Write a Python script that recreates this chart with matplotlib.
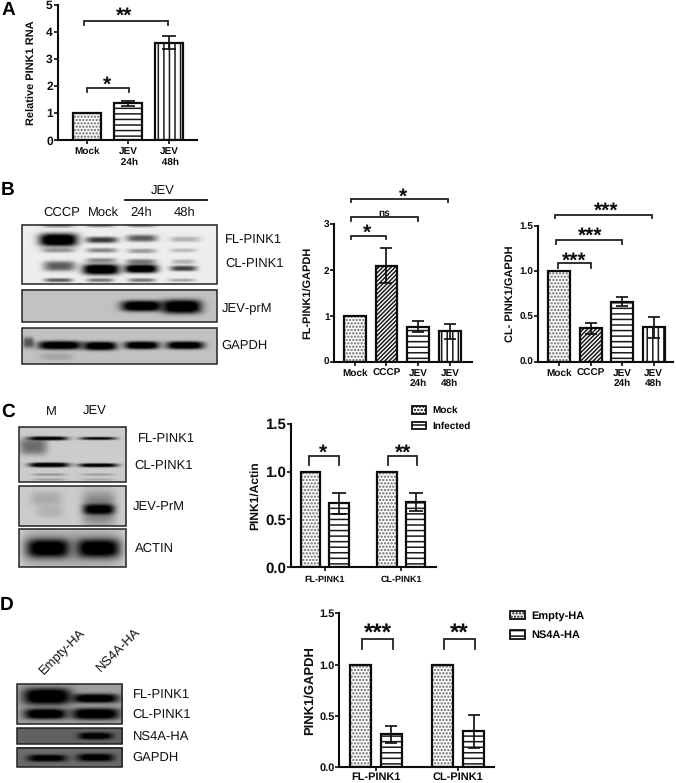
import numpy as np
import matplotlib
matplotlib.use("Agg")
import matplotlib.pyplot as plt
from matplotlib.patches import Rectangle

plt.rcParams['font.family'] = ['Liberation Sans', 'DejaVu Sans']
plt.rcParams['hatch.linewidth'] = 1.1
plt.rcParams['text.hinting'] = 'no_hinting'
plt.rcParams['text.hinting_factor'] = 1
W, H = 676, 783
DPI = 100
INK = '#0c0c0c'

# ---- chart data ----
a_labels = ['Mock', 'JEV\n 24h', 'JEV\n 48h']
a_values = [1.0, 1.36, 3.6]
a_errors = [0.0, 0.08, 0.24]
a_hatches = ['.....', '---', '|||']

b1_labels = ['Mock', 'CCCP', 'JEV\n24h', 'JEV\n48h']
b1_values = [1.0, 2.1, 0.76, 0.66]
b1_errors = [0.0, 0.39, 0.12, 0.155]
b2_values = [1.0, 0.37, 0.66, 0.38]
b2_errors = [0.0, 0.06, 0.05, 0.118]
b_hatches = ['.....', '////////', '---', '|||']

group_labels = ['FL-PINK1', 'CL-PINK1']
c_mock = [1.0, 1.0]
c_infected = [0.67, 0.68]
c_infected_err = [0.11, 0.095]
d_empty = [1.0, 1.0]
d_ns4a = [0.32, 0.35]
d_ns4a_err = [0.08, 0.158]

# ---- blots: rect (zoom-px), background, bands (cx, cy, half-w, half-h, strength) ----
blot_b1 = ((66, 150, 650, 328), 0.93, [
    (175, 197, 58, 17, 1.0), (305, 197, 48, 8, .62), (425, 192, 46, 9, .5), (555, 195, 45, 7, .2),
    (175, 228, 50, 6, .3), (305, 228, 45, 6, .35), (425, 230, 42, 6, .28), (550, 228, 40, 5, .18),
    (178, 275, 48, 13, .5), (303, 285, 56, 14, 1.0), (423, 283, 50, 11, 1.0), (550, 282, 40, 7, .6),
    (423, 262, 45, 7, .4), (303, 258, 45, 6, .35), (550, 262, 35, 6, .2),
    (175, 317, 42, 5, .5), (300, 317, 40, 5, .4), (425, 317, 40, 5, .4), (545, 317, 40, 4, .25),
    (175, 155, 45, 5, .3), (300, 155, 40, 4, .3), (425, 155, 40, 4, .3)])
blot_b2 = ((66, 345, 650, 442), 0.76, [
    (425, 395, 62, 14, 1.0), (545, 397, 60, 18, 1.0)])
blot_b3 = ((66, 460, 650, 566), 0.76, [
    (85, 503, 16, 14, .45), (180, 511, 66, 11, 1.0), (300, 513, 50, 11, 1.0),
    (425, 511, 52, 10, 1.0), (555, 511, 56, 10, 1.0), (170, 545, 50, 10, .12)])

blot_c1 = ((58, 97, 378, 262), 0.8, [
    (145, 131, 58, 5, .95), (295, 131, 55, 4, .8), (100, 155, 42, 22, .38),
    (148, 211, 60, 6, 1.0), (295, 212, 58, 5, .95), (148, 240, 50, 3, .25), (295, 240, 48, 3, .2),
    (148, 255, 50, 3, .18), (295, 255, 48, 3, .15)])
blot_c2 = ((58, 272, 378, 392), 0.8, [
    (297, 342, 45, 13, 1.0), (297, 340, 50, 46, .32), (140, 310, 48, 20, .13), (150, 350, 40, 15, .1)])
blot_c3 = ((58, 402, 378, 516), 0.86, [
    (145, 460, 62, 23, 1.0), (295, 460, 62, 23, 1.0), (145, 460, 85, 50, .3), (295, 460, 80, 50, .3)])

blot_d1 = ((50, 268, 367, 388), 0.62, [
    (140, 305, 72, 22, 1.0), (285, 311, 70, 12, .97), (135, 358, 64, 14, 1.0), (285, 358, 72, 15, 1.0)])
blot_d2 = ((50, 400, 367, 448), 0.38, [(285, 424, 50, 9, 1.0)])
blot_d3 = ((50, 458, 367, 517), 0.42, [(140, 491, 58, 9, .95), (285, 489, 55, 10, .95)])

# ---- figure ----
fig = plt.figure(figsize=(W / DPI, H / DPI), dpi=DPI, facecolor='white')
over = fig.add_axes([0, 0, 1, 1], zorder=5)
over.patch.set_alpha(0)
over.axis('off')


def make_axes(left, right, top, bottom, c0, unit, ymax, yticks, yfmt, tick_fs, ylabel, lab_fs, lab_x):
    ax = fig.add_axes([left / W, 1 - bottom / H, (right - left) / W, (bottom - top) / H], zorder=2)
    ax.patch.set_alpha(0)
    ax.set_xlim((left - c0) / unit, (right - c0) / unit)
    ax.set_ylim(0, ymax)
    for s in ('top', 'right'):
        ax.spines[s].set_visible(False)
    for s in ('left', 'bottom'):
        ax.spines[s].set_linewidth(1.5)
        ax.spines[s].set_color(INK)
    ax.set_yticks(yticks)
    ax.set_yticklabels([yfmt % v for v in yticks], fontsize=tick_fs, fontweight='bold', color=INK)
    ax.tick_params(axis='y', length=2.8, width=1.2, pad=0.6, color=INK)
    ax.tick_params(axis='x', length=2.6, width=1.2, pad=2.2, color=INK)
    ax.set_ylabel(ylabel, fontsize=lab_fs, fontweight='bold', color=INK, va='center')
    ax.yaxis.set_label_coords((lab_x - left) / (right - left), 0.5)
    return ax


def bars(ax, xs, vals, errs, hatches, width, cap, label=None):
    for i, (x, v, h) in enumerate(zip(xs, vals, hatches)):
        hatch_col = '#666666' if '.' in h else '#1a1a1a'
        ax.bar(x, v, width=width, facecolor='white', edgecolor=hatch_col, linewidth=0, hatch=h, zorder=2)
        ax.bar(x, v, width=width, fill=False, edgecolor=INK, linewidth=1.6, zorder=2.5)
        if errs is not None and errs[i] > 0:
            ax.errorbar(x, v, yerr=errs[i], color=INK, elinewidth=1.2, capsize=cap, capthick=1.2, zorder=3)
    if label:
        ax.bar([0], [0], width=0, facecolor='white', edgecolor=INK, linewidth=1.3, hatch=hatches[0], label=label)


def bracket(ax, x0, x1, top, drop):
    ax.plot([x0, x0, x1, x1], [drop, top, top, drop], color='#222222', lw=1.3, clip_on=False,
            solid_joinstyle='miter', zorder=4)


def stars(ax, x, y, s, size):
    ax.annotate(s, (x, y), xytext=(0, -size * 0.43), textcoords='offset points', ha='center', va='baseline',
                fontsize=size, fontweight='bold', color=INK, annotation_clip=False)


def blot(spec, ox, oy):
    (x0, y0, x1, y1), bg, bands = spec
    xs = np.arange(x0, x1 + 1.0, 1.0)
    ys = np.arange(y0, y1 + 1.0, 1.0)
    X, Y = np.meshgrid(xs, ys)
    img = np.full(X.shape, float(bg))
    for cx, cy, hw, hh, st in bands:
        g = np.exp(-((X - cx) / hw) ** 4 - (np.abs(Y - cy) / (hh * 1.15)) ** 3)
        img *= 1 - np.minimum(1.0, 1.25 * st * g)
    ext = [ox + x0 / 3, ox + x1 / 3, oy + y1 / 3, oy + y0 / 3]
    over.imshow(img, cmap='gray', vmin=0, vmax=1, extent=ext, aspect='auto', interpolation='bilinear', zorder=1)
    over.add_patch(Rectangle((ext[0], ext[3]), ext[1] - ext[0], ext[2] - ext[3], fill=False,
                             edgecolor='#222222', linewidth=1.1, zorder=2))


def label(x, y, s, ha='left', fs=9.2, **kw):
    over.text(x, y, s, ha=ha, va='center', fontsize=fs, color='#111111', zorder=3, **kw)


# Panel A
axA = make_axes(57.5, 197, 4.5, 140.3, 87, 41, 5, [0, 1, 2, 3, 4, 5], '%d', 8.6, 'Relative PINK1 RNA', 7.8, 31.7)
xa = np.arange(len(a_values))
bars(axA, xa, a_values, a_errors, a_hatches, 27.5 / 41, 4.7)
axA.set_xticks(xa)
axA.set_xticklabels(a_labels, fontsize=6.9, fontweight='bold', color=INK, linespacing=1.15)
bracket(axA, -0.007, 1.02, 1.94, 1.76)
stars(axA, 0.48, 2.16, '*', 15)
bracket(axA, -0.065, 1.97, 4.41, 4.24)
stars(axA, 0.9, 4.69, '**', 15)

# Panel B, middle
axB1 = make_axes(334.3, 471.7, 224.3, 361.7, 354.8, 31.67, 3, [0, 1, 2, 3], '%d', 7.4, 'FL-PINK1/GAPDH', 8, 308.3)
xb = np.arange(len(b1_values))
bars(axB1, xb, b1_values, b1_errors, b_hatches, 21.7 / 31.67, 4)
axB1.set_xticks(xb)
axB1.set_xticklabels(b1_labels, fontsize=6.9, fontweight='bold', color=INK, linespacing=1.15)
bracket(axB1, -0.13, 0.98, 2.75, 2.67)
stars(axB1, 0.39, 2.88, '*', 15)
bracket(axB1, -0.13, 2.0, 3.15, 3.08)
axB1.text(0.93, 3.24, 'ns', ha='center', va='center', fontsize=7.5, fontweight='bold', color=INK)
bracket(axB1, -0.13, 2.95, 3.55, 3.48)
stars(axB1, 1.53, 3.66, '*', 15)

# Panel B, right
axB2 = make_axes(538.3, 672.7, 225.7, 361.7, 559, 31.57, 1.5, [0, 0.5, 1.0, 1.5], '%.1f', 7.4, 'CL- PINK1/GAPDH', 7.7, 511)
bars(axB2, xb, b2_values, b2_errors, b_hatches, 22 / 31.57, 4)
axB2.set_xticks(xb)
axB2.set_xticklabels(b1_labels, fontsize=6.9, fontweight='bold', color=INK, linespacing=1.15)
bracket(axB2, -0.02, 1.0, 1.085, 1.037)
stars(axB2, 0.49, 1.15, '***', 15)
bracket(axB2, -0.1, 1.985, 1.338, 1.294)
stars(axB2, 0.98, 1.426, '***', 15)
bracket(axB2, -0.13, 2.96, 1.618, 1.58)
stars(axB2, 1.51, 1.70, '***', 15)

# Panel C
axC = make_axes(290.7, 435.7, 423.7, 567.3, 324.7, 76.67, 1.5, [0, 0.5, 1.0, 1.5], '%.1f', 10.6, 'PINK1/Actin', 8.3, 255.3)
xg = np.arange(len(group_labels))
bars(axC, xg - 0.187, c_mock, None, ['.....'] * 2, 0.252, 5, label='Mock')
bars(axC, xg + 0.187, c_infected, c_infected_err, ['---'] * 2, 0.252, 5, label='Infected')
axC.set_xticks(xg)
axC.set_xticklabels(group_labels, fontsize=6.8, fontweight='bold', color=INK)
axC.tick_params(axis='x', pad=3.4)
bracket(axC, -0.2, 0.187, 1.166, 1.069)
stars(axC, -0.017, 1.232, '*', 15)
bracket(axC, 0.83, 1.209, 1.166, 1.069)
stars(axC, 1.026, 1.232, '**', 15)

# Panel D
axD = make_axes(339.3, 494.3, 613.3, 767.3, 375.8, 82.17, 1.5, [0, 0.5, 1.0, 1.5], '%.1f', 7.8, 'PINK1/GAPDH', 9, 309.3)
bars(axD, xg - 0.189, d_empty, None, ['.....'] * 2, 0.252, 4, label='Empty-HA')
bars(axD, xg + 0.189, d_ns4a, d_ns4a_err, ['---'] * 2, 0.252, 4, label='NS4A-HA')
axD.set_xticks(xg)
axD.set_xticklabels(group_labels, fontsize=7.6, fontweight='bold', color=INK)
axD.tick_params(axis='x', pad=0.8)
bracket(axD, -0.164, 0.213, 1.247, 1.149)
stars(axD, 0.026, 1.344, '***', 17)
bracket(axD, 0.826, 1.203, 1.247, 1.149)
stars(axD, 1.016, 1.344, '**', 17)


def legend(ax, x, y, fs, spacing):
    ax.legend(loc='upper left', bbox_to_anchor=(x / W, 1 - y / H), bbox_transform=fig.transFigure,
              frameon=False, borderpad=0, borderaxespad=0, handlelength=1.4, handleheight=0.8,
              handletextpad=0.65, labelspacing=spacing,
              prop={'size': fs, 'weight': 'bold', 'family': 'Liberation Sans'})


legend(axC, 412, 406, 7.2, 0.62)
legend(axD, 510, 611, 7.6, 0.85)

# Blots
for spec in (blot_b1, blot_b2, blot_b3):
    blot(spec, 0, 175)
for spec in (blot_c1, blot_c2, blot_c3):
    blot(spec, 0, 395)
for spec in (blot_d1, blot_d2, blot_d3):
    blot(spec, 0, 595)

# Blot labels: panel B
for x, s in zip((61.7, 103, 141, 185), ('CCCP', 'Mock', '24h', '48h')):
    label(x, 212.7, s, ha='center')
label(163, 192, 'JEV', ha='center')
over.plot([125, 207], [200, 200], color='#111111', lw=1.3, zorder=3)
label(225, 240, 'FL-PINK1')
label(225, 264, 'CL-PINK1')
label(221.7, 309, 'JEV-prM')
label(221.7, 346, 'GAPDH')

# panel C
label(51.7, 411.7, 'M', ha='center')
label(95, 411.7, 'JEV', ha='center')
label(138, 439, 'FL-PINK1')
label(134, 466, 'CL-PINK1')
label(132.7, 508, 'JEV-PrM')
label(135, 549, 'ACTIN')

# panel D
over.text(63, 652, 'Empty-HA', rotation=45, ha='center', va='center', fontsize=9.2, color='#111111', rotation_mode='anchor')
over.text(118, 650, 'NS4A-HA', rotation=45, ha='center', va='center', fontsize=9.2, color='#111111', rotation_mode='anchor')
label(132.7, 695, 'FL-PINK1')
label(132.7, 715, 'CL-PINK1')
label(132.7, 737, 'NS4A-HA')
label(132.7, 758, 'GAPDH')

# Panel letters
for x, y, s in ((1.5, 10, 'A'), (1, 190.5, 'B'), (1.5, 412, 'C'), (0, 605.5, 'D')):
    over.text(x, y, s, ha='left', va='center', fontsize=14, fontweight='bold', color='black')

over.set_xlim(0, W)
over.set_ylim(H, 0)

fig.savefig('out.png', dpi=DPI)
